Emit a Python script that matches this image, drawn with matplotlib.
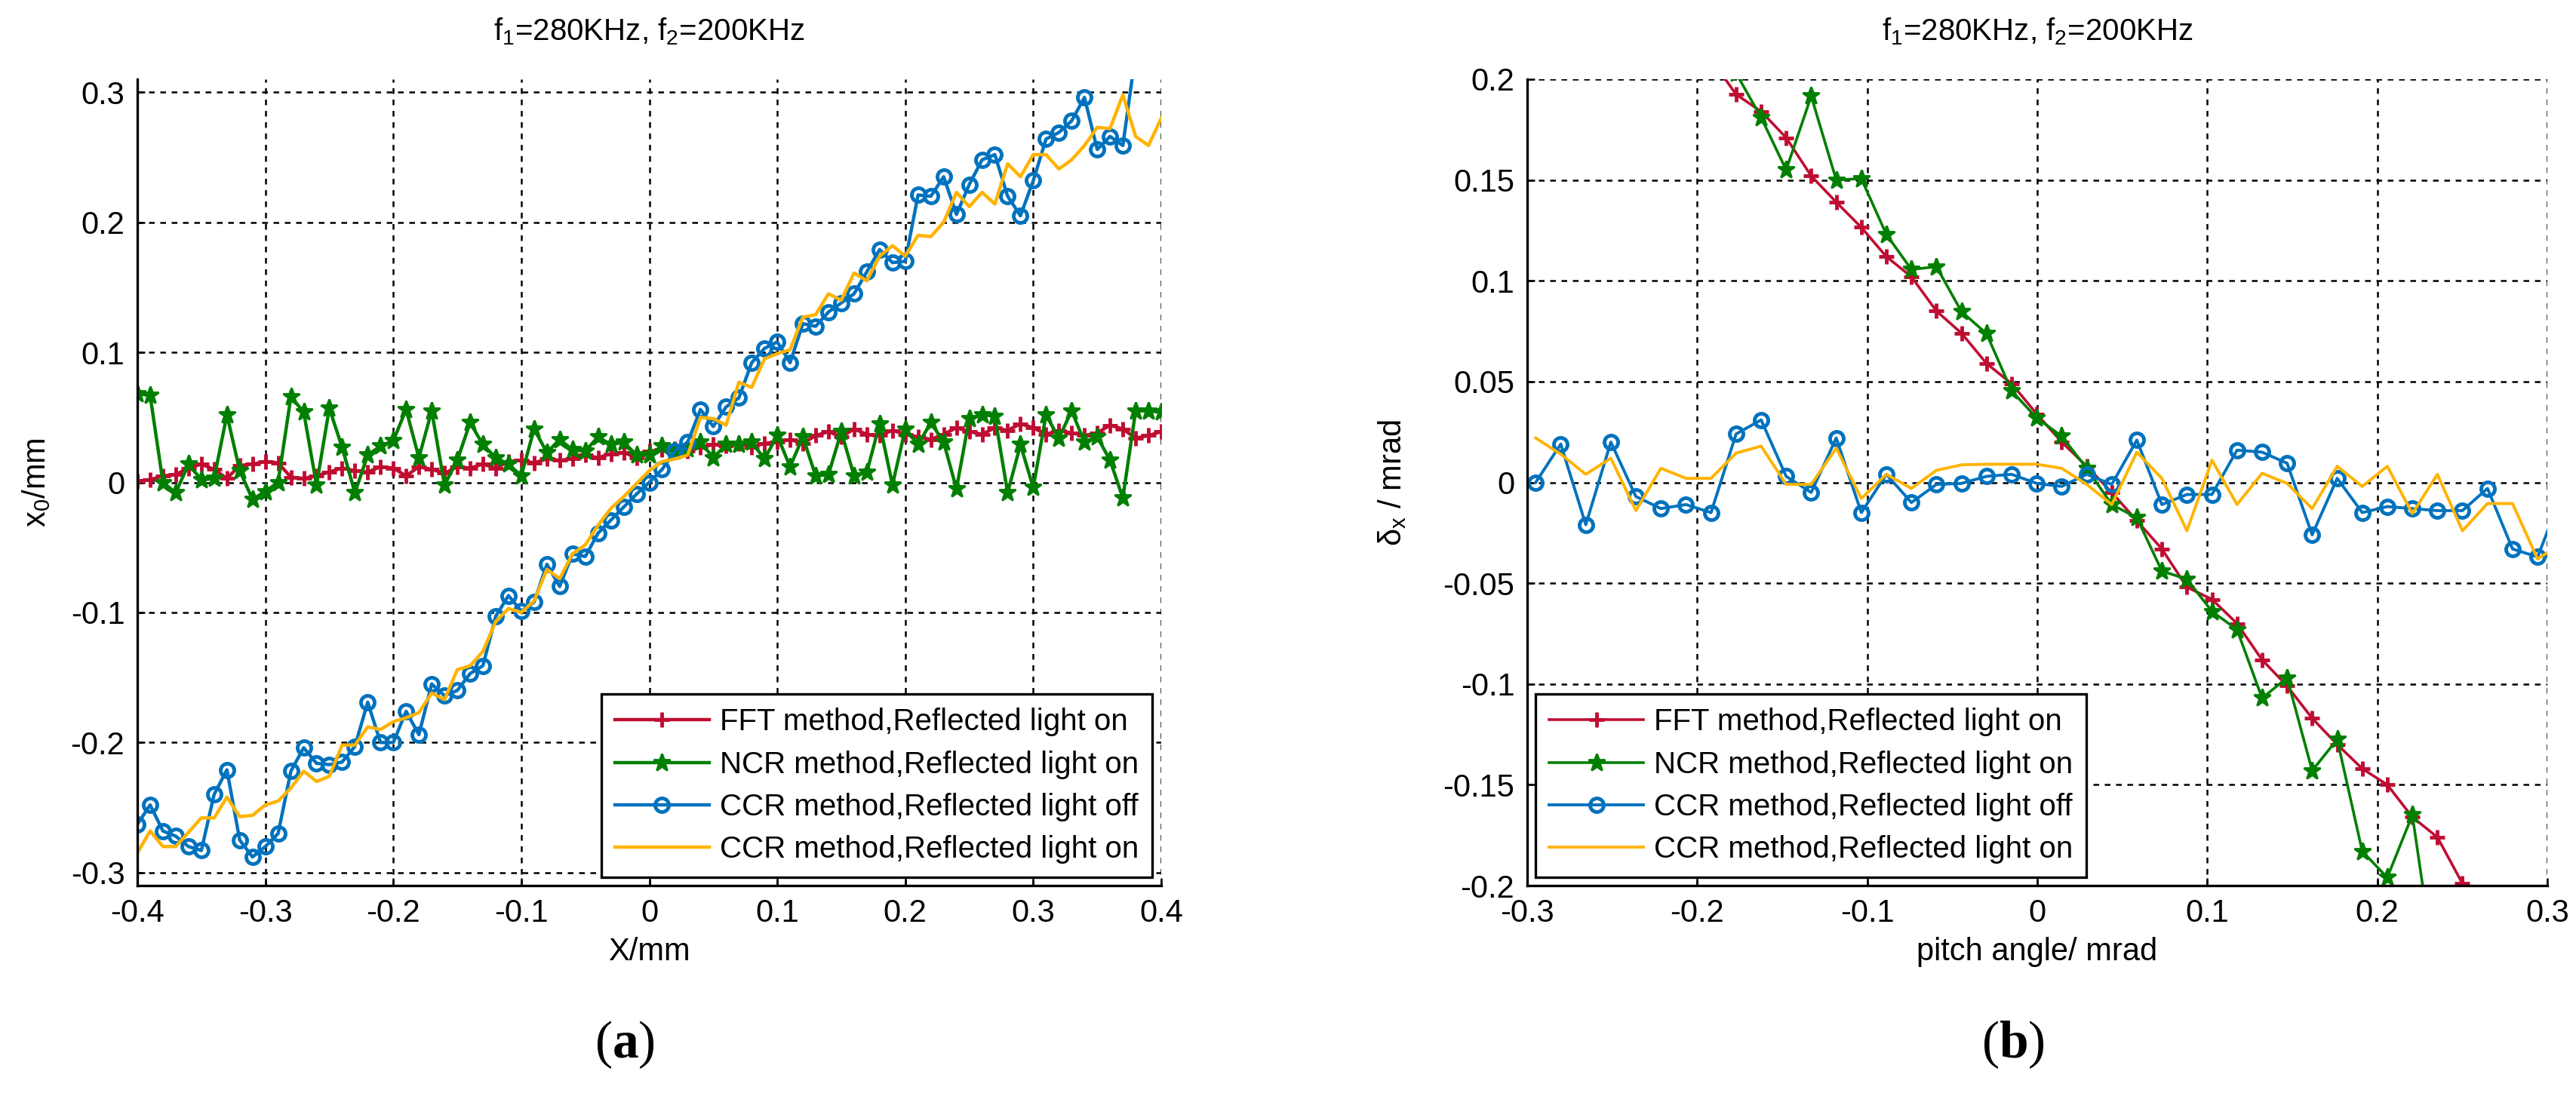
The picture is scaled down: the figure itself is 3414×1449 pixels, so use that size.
import numpy as np
import matplotlib
matplotlib.use("Agg")
import matplotlib.pyplot as plt

plt.rcParams['font.family'] = ['Liberation Sans', 'DejaVu Sans']
plt.rcParams['mathtext.fontset'] = 'custom'
plt.rcParams['mathtext.rm'] = 'Liberation Sans'
plt.rcParams['mathtext.it'] = 'Liberation Sans'
plt.rcParams['mathtext.bf'] = 'Liberation Serif:bold'
plt.rcParams['axes.unicode_minus'] = False

# ---- data, panel (a): x0 vs X ----
x_a = np.linspace(-0.4, 0.4, 81)
fft_a = [0.001, 0.002, 0.005, 0.006, 0.011, 0.014, 0.010, 0.003, 0.013, 0.014,
         0.016, 0.015, 0.004, 0.003, 0.005, 0.008, 0.011, 0.009, 0.008, 0.012,
         0.011, 0.005, 0.012, 0.010, 0.007, 0.012, 0.011, 0.014, 0.011, 0.016,
         0.017, 0.015, 0.018, 0.017, 0.018, 0.021, 0.019, 0.022, 0.023, 0.019,
         0.024, 0.025, 0.026, 0.024, 0.027, 0.029, 0.028, 0.030, 0.027, 0.030,
         0.031, 0.033, 0.030, 0.036, 0.039, 0.035, 0.041, 0.037, 0.036, 0.040,
         0.037, 0.035, 0.033, 0.037, 0.042, 0.039, 0.037, 0.042, 0.040, 0.045,
         0.042, 0.037, 0.040, 0.038, 0.036, 0.038, 0.044, 0.041, 0.034, 0.036,
         0.039]
ncr_a = [0.068, 0.067, 0.000, -0.008, 0.014, 0.002, 0.003, 0.052, 0.009, -0.013,
         -0.007, 0.000, 0.066, 0.054, -0.002, 0.057, 0.027, -0.008, 0.021, 0.028,
         0.032, 0.056, 0.019, 0.055, -0.002, 0.017, 0.046, 0.029, 0.019, 0.014,
         0.005, 0.041, 0.023, 0.033, 0.025, 0.024, 0.035, 0.029, 0.031, 0.021,
         0.021, 0.028, 0.024, 0.026, 0.031, 0.019, 0.029, 0.029, 0.031, 0.018,
         0.036, 0.012, 0.035, 0.005, 0.006, 0.039, 0.005, 0.008, 0.045, -0.002,
         0.041, 0.029, 0.046, 0.031, -0.005, 0.049, 0.052, 0.051, -0.008, 0.029,
         -0.004, 0.052, 0.034, 0.055, 0.031, 0.035, 0.017, -0.012, 0.055, 0.055,
         0.054]
ccr_off_a = [-0.263, -0.248, -0.268, -0.272, -0.280, -0.283, -0.240, -0.221, -0.275, -0.288,
             -0.280, -0.270, -0.222, -0.204, -0.216, -0.217, -0.215, -0.203, -0.169, -0.200,
             -0.200, -0.176, -0.194, -0.155, -0.164, -0.160, -0.147, -0.141, -0.103, -0.087,
             -0.099, -0.092, -0.063, -0.080, -0.055, -0.057, -0.039, -0.029, -0.019, -0.009,
             0.000, 0.010, 0.024, 0.031, 0.056, 0.043, 0.058, 0.065, 0.092, 0.103,
             0.108, 0.092, 0.122, 0.120, 0.131, 0.138, 0.145, 0.162, 0.179, 0.169,
             0.170, 0.221, 0.220, 0.235, 0.206, 0.229, 0.248, 0.252, 0.220, 0.205,
             0.232, 0.264, 0.269, 0.278, 0.296, 0.256, 0.266, 0.259, 0.330, 0.350,
             0.370]
ccr_on_a = [-0.285, -0.268, -0.280, -0.280, -0.269, -0.258, -0.258, -0.242, -0.257, -0.256,
            -0.248, -0.245, -0.235, -0.222, -0.230, -0.226, -0.202, -0.202, -0.188, -0.190,
            -0.184, -0.181, -0.177, -0.162, -0.167, -0.144, -0.141, -0.130, -0.107, -0.097,
            -0.100, -0.091, -0.067, -0.074, -0.055, -0.048, -0.033, -0.020, -0.011, -0.001,
            0.009, 0.016, 0.018, 0.021, 0.050, 0.049, 0.044, 0.077, 0.073, 0.095,
            0.099, 0.102, 0.127, 0.129, 0.145, 0.140, 0.161, 0.155, 0.174, 0.182,
            0.174, 0.190, 0.189, 0.200, 0.223, 0.212, 0.223, 0.214, 0.245, 0.235,
            0.252, 0.252, 0.241, 0.248, 0.259, 0.273, 0.272, 0.298, 0.266, 0.259,
            0.280]

# ---- data, panel (b): delta_x vs pitch angle ----
x_b = np.linspace(-0.295, 0.309, 42)
fft_b = [0.210, 0.1925, 0.184, 0.171, 0.152, 0.139, 0.1265, 0.112, 0.102, 0.085,
         0.074, 0.059, 0.049, 0.034, 0.020, 0.008, -0.005, -0.019, -0.033, -0.052,
         -0.058, -0.070, -0.088, -0.101, -0.117, -0.130, -0.142, -0.150, -0.166, -0.176,
         -0.199]                       # points 7..37 of x_b
ncr_b = [0.203, 0.181, 0.155, 0.1916, 0.150, 0.1507, 0.123, 0.1056, 0.107, 0.0847,
         0.0738, 0.0454, 0.032, 0.0229, 0.007, -0.011, -0.0175, -0.044, -0.048, -0.064,
         -0.073, -0.107, -0.097, -0.143, -0.1275, -0.183, -0.196, -0.165, -0.250]  # points 8..36
ccr_off_b = [0.000, 0.019, -0.021, 0.020, -0.007, -0.013, -0.011, -0.015, 0.024, 0.031,
             0.003, -0.005, 0.022, -0.015, 0.004, -0.010, -0.001, -0.0005, 0.003, 0.004,
             -0.0005, -0.002, 0.004, -0.001, 0.021, -0.011, -0.006, -0.006, 0.016, 0.015,
             0.0095, -0.026, 0.002, -0.015, -0.012, -0.013, -0.014, -0.014, -0.003, -0.033,
             -0.037, -0.005]
ccr_on_b = [0.022, 0.014, 0.004, 0.012, -0.014, 0.007, 0.002, 0.002, 0.0145, 0.018,
            -0.001, -0.001, 0.017, -0.008, 0.004, -0.003, 0.006, 0.0087, 0.009, 0.009,
            0.009, 0.007, -0.001, -0.011, 0.015, 0.002, -0.024, 0.011, -0.011, 0.0045,
            -0.0005, -0.013, 0.008, -0.002, 0.008, -0.0155, 0.004, -0.024, -0.0105, -0.0105,
            -0.038, -0.030]

labels = ['FFT method,Reflected light on', 'NCR method,Reflected light on',
          'CCR method,Reflected light off', 'CCR method,Reflected light on']
red, green, blue, orange = '#BF0D32', '#007F00', '#0072BD', '#FFB300'

fig = plt.figure(figsize=(34.14, 14.49), dpi=100)
ax1 = fig.add_axes([182 / 3414, 1 - 1174 / 1449, 1357 / 3414, 1069 / 1449])
ax2 = fig.add_axes([2024 / 3414, 1 - 1174 / 1449, 1352 / 3414, 1069 / 1449])


def style(ax):
    ax.grid(True, color='black', linestyle=(0, (3, 3)), linewidth=1.8)
    ax.set_axisbelow(True)
    ax.spines['top'].set_visible(False)
    ax.spines['right'].set_visible(False)
    ax.spines['left'].set_linewidth(2.4)
    ax.spines['bottom'].set_linewidth(2.4)
    ax.tick_params(direction='in', length=7, width=1.8, labelsize=30, pad=12)


# panel (a)
ax1.plot(x_a, fft_a, color=red, lw=3.2, marker='+', ms=15, mew=3.5, label=labels[0])
ax1.plot(x_a, ncr_a, color=green, lw=3.2, marker='*', ms=17, mew=2, label=labels[1])
ax1.plot(x_a, ccr_off_a, color=blue, lw=3.2, marker='o', ms=13, mew=3.5, mfc='none', label=labels[2])
ax1.plot(x_a, ccr_on_a, color=orange, lw=3.2, label=labels[3])
style(ax1)
ax1.set_xlim(-0.4, 0.4)
ax1.set_ylim(-0.31, 0.31)
ax1.set_xticks([-0.4, -0.3, -0.2, -0.1, 0, 0.1, 0.2, 0.3, 0.4])
ax1.set_xticklabels(['-0.4', '-0.3', '-0.2', '-0.1', '0', '0.1', '0.2', '0.3', '0.4'])
ax1.set_yticks([-0.3, -0.2, -0.1, 0, 0.1, 0.2, 0.3])
ax1.set_yticklabels(['-0.3', '-0.2', '-0.1', '0', '0.1', '0.2', '0.3'])
ax1.set_xlabel('X/mm', fontsize=30, labelpad=8)
ax1.set_ylabel('x$_0$/mm', fontsize=30)
ax1.yaxis.set_label_coords(-0.083, 0.5)
leg1 = ax1.legend(loc='lower right', bbox_to_anchor=(0.9912, 0.0103), borderaxespad=0,
                  fontsize=29, fancybox=False, edgecolor='black', framealpha=1,
                  handlelength=3.1, handletextpad=0.35, labelspacing=0.45, borderpad=0.45)
leg1.get_frame().set_linewidth(2.4)

# panel (b)
ax2.plot(x_b[7:38], fft_b, color=red, lw=2.6, marker='+', ms=15, mew=3.5, label=labels[0])
ax2.plot(x_b[8:37], ncr_b, color=green, lw=2.6, marker='*', ms=17, mew=2, label=labels[1])
ax2.plot(x_b, ccr_off_b, color=blue, lw=2.8, marker='o', ms=13, mew=3.5, mfc='none', label=labels[2])
ax2.plot(x_b, ccr_on_b, color=orange, lw=2.8, label=labels[3])
style(ax2)
ax2.set_xlim(-0.3, 0.3)
ax2.set_ylim(-0.2, 0.2)
ax2.set_xticks([-0.3, -0.2, -0.1, 0, 0.1, 0.2, 0.3])
ax2.set_xticklabels(['-0.3', '-0.2', '-0.1', '0', '0.1', '0.2', '0.3'])
ax2.set_yticks([-0.2, -0.15, -0.1, -0.05, 0, 0.05, 0.1, 0.15, 0.2])
ax2.set_yticklabels(['-0.2', '-0.15', '-0.1', '-0.05', '0', '0.05', '0.1', '0.15', '0.2'])
ax2.set_xlabel('pitch angle/ mrad', fontsize=30, labelpad=8)
ax2.set_ylabel('δ$_x$ / mrad', fontsize=30)
ax2.yaxis.set_label_coords(-0.117, 0.5)
leg2 = ax2.legend(loc='lower left', bbox_to_anchor=(0.0081, 0.0103), borderaxespad=0,
                  fontsize=29, fancybox=False, edgecolor='black', framealpha=1,
                  handlelength=3.1, handletextpad=0.35, labelspacing=0.45, borderpad=0.45)
leg2.get_frame().set_linewidth(2.4)

# titles and panel letters
fig.text(0.252, 0.971, 'f$_1$=280KHz, f$_2$=200KHz', ha='center', va='center', fontsize=29)
fig.text(0.791, 0.971, 'f$_1$=280KHz, f$_2$=200KHz', ha='center', va='center', fontsize=29)
fig.text(0.2425, 0.044, r'($\mathbf{a}$)', ha='center', va='center', fontsize=50, family='Liberation Serif')
fig.text(0.7815, 0.044, r'($\mathbf{b}$)', ha='center', va='center', fontsize=50, family='Liberation Serif')

fig.savefig('out.png', dpi=100)
